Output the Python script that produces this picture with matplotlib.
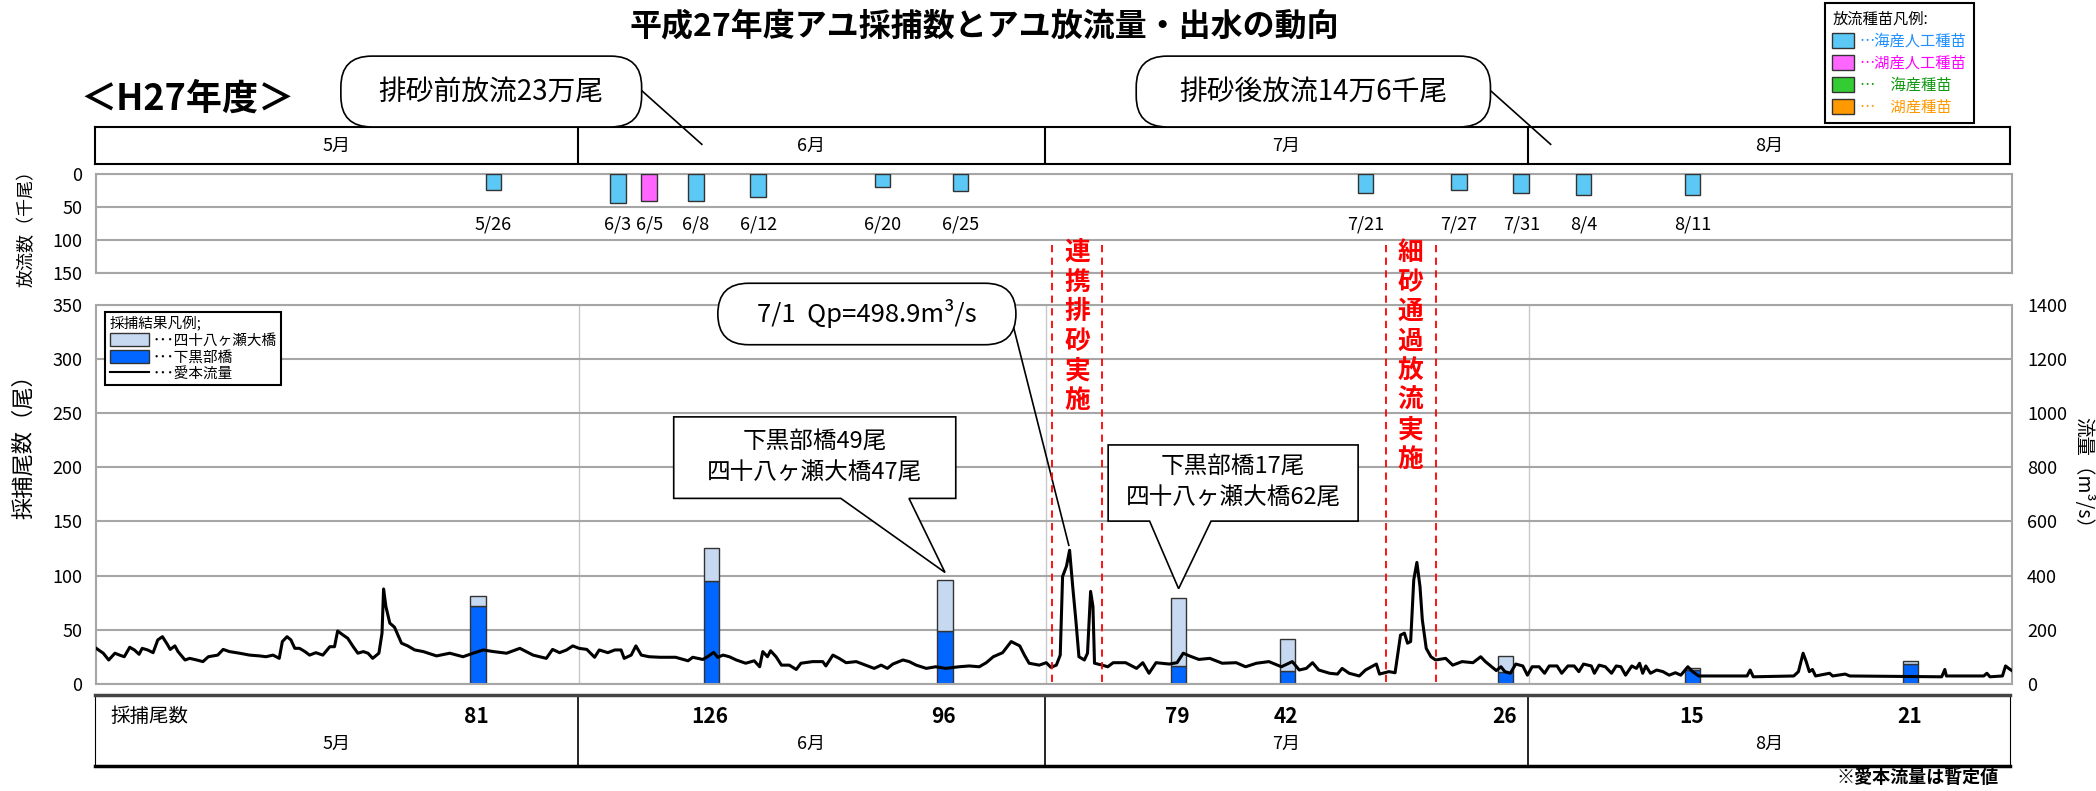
import matplotlib
matplotlib.use('Agg')
import matplotlib.pyplot as plt
from matplotlib.patches import Patch, Polygon, FancyBboxPatch
from matplotlib.lines import Line2D

plt.rcParams['font.family'] = ['Noto Sans CJK JP', 'DejaVu Sans']

# ---- data -------------------------------------------------------------
months = ['5月', '6月', '7月', '8月']
month_days = [31, 30, 31, 31]

# releases (thousand fish)
release_dates = ['5/26', '6/3', '6/5', '6/8', '6/12', '6/20', '6/25',
                 '7/21', '7/27', '7/31', '8/4', '8/11']
release_k = [25, 45, 41, 41, 35, 20, 26, 29, 24, 29, 32, 32]
release_kind = ['海産人工', '海産人工', '湖産人工', '海産人工', '海産人工', '海産人工',
                '海産人工', '海産人工', '海産人工', '海産人工', '海産人工', '海産人工']

# catches
catch_dates = ['5/25', '6/9', '6/24', '7/9', '7/16', '7/30', '8/11', '8/25']
catch_kurobe = [72, 95, 49, 17, 12, 11, 13, 19]
catch_48 = [9, 31, 47, 62, 30, 15, 2, 2]

# Aimoto discharge (m3/s), time in days from 5/1
flow_day = [0.0, 0.45, 0.8, 1.2, 1.5, 1.8, 2.15, 2.45, 2.75, 2.95, 3.3, 3.65, 3.95, 4.25,
            4.55, 4.75, 5.05, 5.25, 5.7, 6.0, 6.45, 6.85, 7.2, 7.8, 8.15, 8.55, 9.2, 9.85,
            10.5, 10.9, 11.35, 11.75, 11.95, 12.25, 12.5, 12.75, 13.05, 13.4, 13.7, 14.1,
            14.55, 15.0, 15.3, 15.5, 15.85, 16.15, 16.5, 16.8, 17.15, 17.45, 17.75, 18.15,
            18.35, 18.45, 18.6, 18.85, 19.15, 19.6, 20.0, 20.45, 21.0, 21.85, 22.7, 23.55,
            24.2, 24.85, 25.5, 26.35, 27.2, 28.05, 28.9, 29.3, 29.75, 30.2, 30.6, 31.0,
            31.5, 32.0, 32.3, 32.85, 33.3, 33.7, 33.9, 34.35, 34.65, 35.0, 35.5, 36.2,
            37.2, 38.0, 38.3, 38.95, 39.25, 39.65, 39.9, 40.25, 40.65, 41.1, 41.7, 42.25,
            42.6, 42.8, 43.1, 43.3, 43.65, 44.0, 44.5, 44.95, 45.25, 46.0, 46.65, 46.85,
            47.3, 47.7, 48.15, 48.8, 49.4, 49.95, 50.4, 50.8, 51.15, 51.8, 52.2, 52.65,
            53.3, 53.9, 54.55, 55.4, 56.05, 56.7, 57.15, 57.6, 58.2, 58.75, 59.3, 59.6,
            59.9, 60.55, 61.0, 61.3, 61.65, 61.9, 62.05, 62.3, 62.5, 62.7, 62.9, 63.1,
            63.45, 63.65, 63.85, 64.0, 64.1, 64.6, 64.95, 65.3, 66.1, 66.8, 67.2, 67.6,
            68.05, 68.9, 69.4, 69.8, 70.2, 70.8, 71.5, 72.3, 73.2, 73.8, 74.5, 75.3,
            76.1, 76.8, 77.25, 77.7, 78.1, 78.5, 79.2, 79.7, 80.0, 80.45, 81.1, 81.5,
            82.2, 82.4, 83.0, 83.4, 83.75, 84.0, 84.2, 84.4, 84.6, 84.8, 85.0, 85.15,
            85.4, 85.7, 86.0, 86.65, 87.1, 87.7, 88.4, 88.9, 89.2, 89.9, 90.2, 90.45,
            90.8, 91.15, 91.6, 91.9, 92.2, 92.65, 93.0, 93.3, 93.8, 94.1, 94.5, 94.9,
            95.2, 95.5, 96.0, 96.2, 96.5, 96.9, 97.3, 97.6, 97.9, 98.2, 98.6, 98.9,
            99.1, 99.3, 99.5, 99.8, 100.2, 100.6, 101.0, 101.4, 101.75, 102.2, 102.5,
            102.9, 106.0, 106.2, 106.4, 109.0, 109.3, 109.6, 109.8, 110.0, 110.2, 110.4,
            111.3, 111.5, 112.3, 112.6, 118.5, 118.7, 118.8, 121.2, 121.4, 121.6, 122.4,
            122.6, 122.8, 123.0]
flow_q = [132, 114, 89, 114, 107, 101, 136, 126, 110, 132, 126, 116, 163, 175,
          148, 128, 141, 120, 89, 95, 89, 83, 101, 107, 128, 120, 114, 107,
          104, 101, 107, 95, 157, 175, 163, 132, 132, 120, 107, 116,
          107, 138, 138, 196, 181, 169, 138, 114, 120, 114, 95, 114,
          188, 351, 286, 225, 210, 151, 141, 126, 120, 104, 114, 101,
          114, 126, 120, 114, 132, 107, 95, 128, 116, 126, 141, 132,
          128, 99, 126, 116, 126, 126, 95, 107, 141, 107, 101, 99,
          99, 86, 99, 91, 101, 117, 99, 107, 101, 89, 77, 86,
          64, 120, 101, 123, 101, 70, 70, 54, 77, 83, 83, 67,
          107, 95, 79, 83, 70, 58, 70, 58, 74, 89, 83, 70,
          58, 64, 58, 64, 67, 64, 79, 101, 116, 157, 141, 107,
          77, 70, 79, 62, 70, 107, 397, 435, 494, 360, 237, 101,
          89, 114, 342, 286, 77, 70, 64, 79, 79, 58, 79, 40,
          79, 74, 79, 114, 104, 91, 95, 77, 79, 64, 77, 83,
          64, 83, 52, 58, 79, 52, 40, 37, 58, 40, 30, 52,
          74, 37, 46, 42, 181, 188, 151, 157, 385, 449, 360, 237,
          132, 101, 89, 95, 70, 83, 79, 101, 83, 50, 64, 46,
          40, 74, 67, 33, 64, 64, 40, 67, 67, 40, 67, 67,
          46, 74, 67, 40, 70, 64, 40, 67, 64, 33, 67, 58,
          77, 40, 67, 40, 52, 46, 33, 42, 33, 64, 46,
          30, 30, 52, 27, 30, 46, 114, 83, 46, 54, 30,
          40, 30, 37, 30, 27, 54, 30, 30, 40, 27, 30,
          67, 58, 50]

events = ['連携排砂実施', '細砂通過放流実施']
event_start = [61.4, 82.8]
event_end = [64.6, 86.0]

kind_color = {'海産人工': '#5BC8F5', '湖産人工': '#FF66FF', '海産': '#33CC33', '湖産': '#FF9900'}
C_KURO = '#0066FF'
C_48 = '#C6D9F1'
GRID = '#A6A6A6'

month_start = {5: 0, 6: 31, 7: 61, 8: 92}


def to_day(s):
    m, d = map(int, s.split('/'))
    return month_start[m] + d - 1 + 0.5


# layout helper (positions measured on a 1568x592 frame)
W, H = 1568, 592


def box(l, t, r, b):
    return [l / W, 1 - b / H, (r - l) / W, (b - t) / H]


fig = plt.figure(figsize=(20.96, 7.91), dpi=100)
total_days = sum(month_days)
bounds = [sum(month_days[:i + 1]) for i in range(len(month_days) - 1)]
mid = [sum(month_days[:i]) + month_days[i] / 2 for i in range(len(month_days))]

# ---- month header -----------------------------------------------------
ax_hdr = fig.add_axes(box(71, 95, 1504, 123))
ax_hdr.set_xlim(0, total_days)
ax_hdr.set_ylim(0, 1)
ax_hdr.set_xticks([])
ax_hdr.set_yticks([])
for sp in ax_hdr.spines.values():
    sp.set_linewidth(1.5)
for b in bounds:
    ax_hdr.axvline(b, color='black', lw=1.5)
for m, x in zip(months, mid):
    ax_hdr.text(x, 0.5, m, ha='center', va='center', fontsize=13)

# ---- release panel ----------------------------------------------------
ax_rel = fig.add_axes(box(72, 130, 1505, 204))
rel_x = [to_day(d) for d in release_dates]
ax_rel.bar(rel_x, release_k, width=1.0, color=[kind_color[k] for k in release_kind],
           edgecolor='#333333', lw=1, zorder=3)
ax_rel.set_xlim(0, total_days)
ax_rel.set_ylim(150, 0)
ax_rel.set_yticks([0, 50, 100, 150])
ax_rel.set_xticks([])
ax_rel.tick_params(axis='y', length=0, labelsize=13, pad=10)
ax_rel.grid(axis='y', color=GRID, lw=1.5)
for sp in ax_rel.spines.values():
    sp.set_color(GRID)
    sp.set_linewidth(1.5)
for x, s in zip(rel_x, release_dates):
    ax_rel.text(x, 77, s, ha='center', va='center', fontsize=13, zorder=4)
fig.text(20 / W, 1 - 168 / H, '放流数（千尾）', rotation=90, ha='center', va='center', fontsize=13)

# ---- main panel -------------------------------------------------------
ax = fig.add_axes(box(72, 228, 1505, 512))
cx = [to_day(d) for d in catch_dates]
ax.bar(cx, catch_kurobe, width=1.0, color=C_KURO, edgecolor='#333333', lw=1, zorder=2)
ax.bar(cx, catch_48, width=1.0, bottom=catch_kurobe, color=C_48, edgecolor='#333333',
       lw=1, zorder=2)
ax.set_xlim(0, total_days)
ax.set_ylim(0, 350)
ax.set_yticks(range(0, 351, 50))
ax.set_xticks([])
ax.tick_params(axis='y', length=0, labelsize=13, pad=10)
ax.grid(axis='y', color=GRID, lw=1.5, zorder=0)
for b in bounds:
    ax.axvline(b, color='#C8C8C8', lw=1, zorder=1)
for sp in ax.spines.values():
    sp.set_color(GRID)
    sp.set_linewidth(1.5)

ax2 = ax.twinx()
ax2.plot(flow_day, flow_q, color='black', lw=2.2)
ax2.set_ylim(0, 1400)
ax2.set_yticks(range(0, 1401, 200))
ax2.tick_params(axis='y', length=0, labelsize=13, pad=11)
for sp in ax2.spines.values():
    sp.set_visible(False)

fig.text(18 / W, 1 - 330 / H, '採捕尾数（尾）', rotation=90, ha='center', va='center', fontsize=16)
fig.text(1558 / W, 1 - 357 / H, '流量（m³/s）', rotation=270, ha='center', va='center', fontsize=14)

leg_handles = [Patch(facecolor=C_48, edgecolor='#333333'),
               Patch(facecolor=C_KURO, edgecolor='#333333'),
               Line2D([0], [0], color='black', lw=1.5)]
leg = ax.legend(leg_handles, ['･･･四十八ヶ瀬大橋', '･･･下黒部橋', '･･･愛本流量'],
                title='採捕結果凡例;', loc='upper left', bbox_to_anchor=(0.001, 0.999),
                fontsize=10.5, title_fontsize=10.5, alignment='left', fancybox=False,
                edgecolor='black', framealpha=1, handlelength=2.7, handleheight=1.0,
                borderpad=0.3, labelspacing=0.12, handletextpad=0.2)
leg.get_frame().set_linewidth(1.5)

# ---- bottom table -----------------------------------------------------
ax_tbl = fig.add_axes(box(71, 520, 1504, 573))
ax_tbl.set_xlim(0, total_days)
ax_tbl.set_ylim(0, 1)
ax_tbl.set_xticks([])
ax_tbl.set_yticks([])
ax_tbl.spines['top'].set_linewidth(2.5)
ax_tbl.spines['top'].set_color('#444444')
ax_tbl.spines['bottom'].set_linewidth(2.5)
for b in bounds:
    ax_tbl.axvline(b, color='black', lw=1.2)
ax_tbl.text(1.0, 0.7, '採捕尾数', ha='left', va='center', fontsize=14)
for x, a, b in zip(cx, catch_kurobe, catch_48):
    ax_tbl.text(x, 0.7, str(a + b), ha='center', va='center', fontsize=15, weight='bold')
for m, x in zip(months, mid):
    ax_tbl.text(x, 0.3, m, ha='center', va='center', fontsize=13)

# release-kind legend (top right)
rel_handles = [Patch(facecolor=kind_color[k], edgecolor='#333333') for k in kind_color]
rel_leg = fig.legend(rel_handles, ['…海産人工種苗', '…湖産人工種苗', '…　海産種苗', '…　湖産種苗'],
                     labelcolor=['#1E90FF', '#FF00FF', '#119911', '#FF9900'],
                     title='放流種苗凡例:', loc='upper left', bbox_to_anchor=(1365 / W, 1 - 2 / H),
                     fontsize=11, title_fontsize=11, alignment='left', fancybox=False,
                     edgecolor='black', framealpha=1, handlelength=1.4, handleheight=1.15,
                     borderpad=0.5, labelspacing=0.33, handletextpad=0.4, borderaxespad=0)
rel_leg.get_frame().set_linewidth(1.5)

# ---- annotations overlay ----------------------------------------------
ov = fig.add_axes([0, 0, 1, 1], zorder=10)
ov.set_xlim(0, W)
ov.set_ylim(H, 0)
ov.axis('off')


def to_ov(axes, x, y):
    return ov.transData.inverted().transform(axes.transData.transform((x, y)))


ov.text(736, 20, '平成27年度アユ採捕数とアユ放流量・出水の動向', ha='center', va='center',
        fontsize=23, weight='bold')
ov.text(140, 74, '＜H27年度＞', ha='center', va='center', fontsize=26, weight='bold')


def pill(l, t, r, b, text, fs, line_from, line_to):
    ov.plot([line_from[0], line_to[0]], [line_from[1], line_to[1]], color='black', lw=1.2)
    ov.add_patch(FancyBboxPatch((l, t), r - l, b - t, boxstyle='round,pad=0,rounding_size=23',
                                fc='white', ec='black', lw=1.2, zorder=3))
    ov.text((l + r) / 2, (t + b) / 2, text, ha='center', va='center', fontsize=fs, zorder=4)


pill(255, 42, 480, 95, '排砂前放流23万尾', 20, (478, 66), (525, 108))
pill(850, 42, 1115, 95, '排砂後放流14万6千尾', 20, (1113, 66), (1160, 108))

peak_i = flow_q.index(max(flow_q))
tip = to_ov(ax2, flow_day[peak_i] - 0.05, flow_q[peak_i] + 18)
pill(537, 212, 760, 258, '7/1  Qp=498.9m³/s', 18.5, (757, 240), tip)


def rect_callout(l, t, r, b, bx1, bx2, tip, text):
    pts = [(l, t), (r, t), (r, b), (bx2, b), tuple(tip), (bx1, b), (l, b)]
    ov.add_patch(Polygon(pts, closed=True, fc='white', ec='black', lw=1.2, zorder=3))
    ov.text((l + r) / 2, (t + b) / 2, text, ha='center', va='center', fontsize=17,
            linespacing=1.45, zorder=4)


i1 = catch_dates.index('6/24')
rect_callout(504, 312, 715, 373, 629, 680,
             to_ov(ax, cx[i1], catch_kurobe[i1] + catch_48[i1] + 7),
             '下黒部橋49尾\n四十八ヶ瀬大橋47尾')
i2 = catch_dates.index('7/9')
rect_callout(829, 333, 1016, 390, 860, 906,
             to_ov(ax, cx[i2], catch_kurobe[i2] + catch_48[i2] + 9),
             '下黒部橋17尾\n四十八ヶ瀬大橋62尾')

for name, s, e in zip(events, event_start, event_end):
    xs = to_ov(ax, s, 0)[0]
    xe = to_ov(ax, e, 0)[0]
    for x in (xs, xe):
        ov.plot([x, x], [183, 512], color='red', lw=1.3, ls=(0, (4, 3)))
    ov.text((xs + xe) / 2, 179, '\n'.join(name), ha='center', va='top', color='red',
            fontsize=18.5, weight='bold', linespacing=1.12)

ov.text(1495, 582, '※愛本流量は暫定値', ha='right', va='center', fontsize=13, weight='bold')

fig.savefig('out.png', dpi=100)
